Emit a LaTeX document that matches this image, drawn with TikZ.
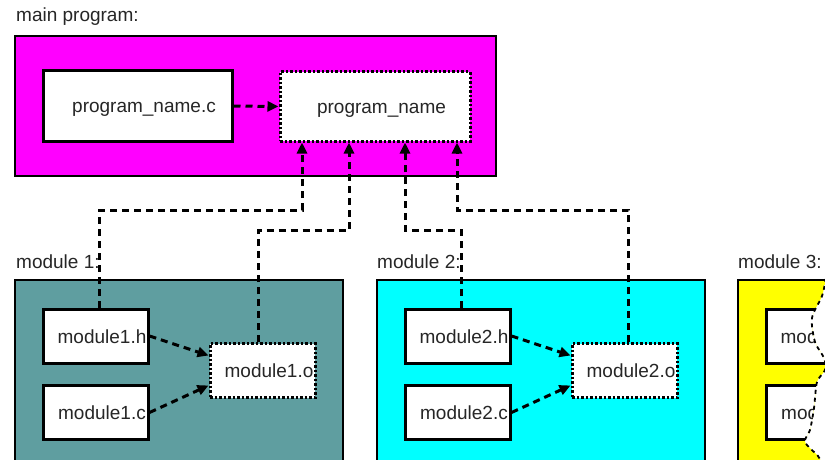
\documentclass[tikz,border=0pt]{standalone}
\usepackage{fontspec}
\setmainfont{Liberation Sans}
\usetikzlibrary{arrows.meta}
\definecolor{grpmagenta}{RGB}{255,0,255}
\definecolor{grpteal}{RGB}{95,158,160}
\definecolor{grpcyan}{RGB}{0,255,255}
\definecolor{grpyellow}{RGB}{255,255,0}
\begin{document}
\begin{tikzpicture}[x=1pt,y=-1pt,
  every node/.style={font=\fontsize{19}{21}\selectfont, inner sep=0pt, text=black!85},
  group/.style={draw=black, line width=2.5pt},
  filebox/.style={fill=white, rectangle, minimum width=105pt, minimum height=54pt,
    text height=14pt, text depth=0pt, execute at begin node=\hspace*{13pt}},
  srcbox/.style={filebox, draw=black, line width=3pt},
  genbox/.style={filebox, draw=black, line width=3pt, dash pattern=on 2.5pt off 2pt},
  conn/.style={line width=3pt, dash pattern=on 7pt off 5pt, -{Triangle[length=11pt,width=10pt]}},
  tear/.style={line width=1.8pt, dash pattern=on 4pt off 4pt},
  caption/.style={anchor=west}]
\clip (0,0) rectangle (825,460);
\fill[white] (0,0) rectangle (825,460);

% main program group
\node[caption] (capmain) at (16,17) {main program:};
\draw[group, fill=grpmagenta] (15,36) rectangle (496,176);
\node[srcbox, minimum width=189pt, minimum height=70pt] (pc) at (137.5,106) {program\_name.c};
\node[genbox, minimum width=190pt, minimum height=69pt] (pn) at (375,106.5) {program\_name};
\draw[conn] (pc.east) -- (pn.west);

% module 1
\node[caption] (cap1) at (16,262) {module 1:};
\draw[group, fill=grpteal] (15,280) rectangle (343,480);
\node[srcbox] (m1h) at (95.5,336) {module1.h};
\node[srcbox] (m1c) at (95.5,412.5) {module1.c};
\node[genbox] (m1o) at (262.5,370.5) {module1.o};
\draw[conn] (m1h.east) -- ([yshift=15pt]m1o.west);
\draw[conn] (m1c.east) -- ([yshift=-15pt]m1o.west);

% module 2
\node[caption] (cap2) at (377,262) {module 2:};
\draw[group, fill=grpcyan] (377,280) rectangle (705,480);
\node[srcbox] (m2h) at (457.5,336) {module2.h};
\node[srcbox] (m2c) at (457.5,412.5) {module2.c};
\node[genbox] (m2o) at (624.5,370.5) {module2.o};
\draw[conn] (m2h.east) -- ([yshift=15pt]m2o.west);
\draw[conn] (m2c.east) -- ([yshift=-15pt]m2o.west);

% module 3, torn off at the right
\node[caption] (cap3) at (738,262) {module 3:};
\begin{scope}
  \clip (720,268) -- (828,268) -- plot[smooth] coordinates {(826,278) (822,296) (812,318) (815,342) (824,358) (825,370) (817,382) (814,408) (810,430) (805,442) (818,456) (822,464)} -- (720,466) -- cycle;
  \draw[group, fill=grpyellow] (738,280) rectangle (1066,480);
  \node[srcbox] (m3h) at (818.5,336) {module3.h};
  \node[srcbox] (m3c) at (818.5,412.5) {module3.c};
\end{scope}
\draw[tear] plot[smooth] coordinates {(826,278) (822,296) (812,318) (815,342) (824,358) (825,370) (817,382) (814,408) (810,430) (805,442) (818,456) (822,464)};

% links from the modules up to the program
\coordinate (hiA) at (0,210);
\coordinate (hiB) at (0,230);
\coordinate (in1) at ([xshift=-73pt]pn.south);
\coordinate (in2) at ([xshift=-26pt]pn.south);
\coordinate (in3) at ([xshift=30pt]pn.south);
\coordinate (in4) at ([xshift=82pt]pn.south);
\draw[conn] ([xshift=4pt]m1h.north) |- (in1 |- hiA) -- (in1);
\draw[conn] ([xshift=-4pt]m1o.north) |- (in2 |- hiB) -- (in2);
\draw[conn] ([xshift=4pt]m2h.north) |- (in3 |- hiB) -- (in3);
\draw[conn] ([xshift=4pt]m2o.north) |- (in4 |- hiA) -- (in4);
\end{tikzpicture}
\end{document}
